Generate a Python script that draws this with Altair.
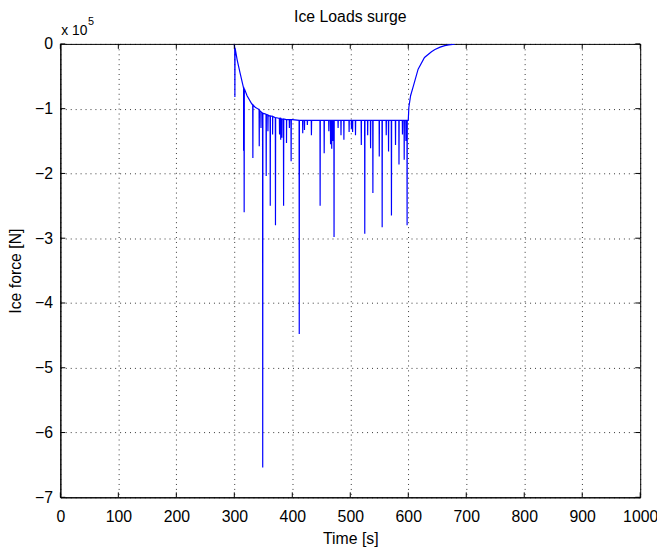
import altair as alt
import pandas as pd

# ---- text ----
title_text = "Ice Loads surge"
x_title = "Time [s]"
y_title = "Ice force [N]"
multiplier_text = "x 10"
multiplier_exp = "5"

# ---- ticks ----
x_ticks = [0, 100, 200, 300, 400, 500, 600, 700, 800, 900, 1000]
y_ticks = [0, -1, -2, -3, -4, -5, -6, -7]   # in units of 1e5 N

# ---- series (force in units of 1e5 N) ----
decay_t = [300, 305, 310, 316, 322, 330, 336, 342, 348, 353, 360, 366, 373, 380, 390, 400, 429, 440]
decay_v = [0.0, -0.25, -0.45, -0.67, -0.80, -0.925, -0.98, -1.01, -1.06, -1.08, -1.11, -1.13, -1.14, -1.15, -1.16, -1.17, -1.18, -1.18]

flat_t = [440, 600]
flat_v = [-1.18, -1.18]

recover_t = [600, 601, 604, 609, 617, 628, 640, 646, 655, 663, 670, 680]
recover_v = [-1.18, -0.98, -0.80, -0.645, -0.39, -0.21, -0.12, -0.087, -0.05, -0.026, -0.015, -0.005]

spike_t = [301, 316, 317, 332, 343, 346, 349, 355, 358, 362, 366, 371, 378, 380, 382, 385, 390, 395,
           398, 412, 418, 421, 426, 433, 448, 455, 463, 466, 468, 470, 472, 479, 484, 489, 498, 502,
           504, 509, 519, 525, 530, 535, 539, 550, 555, 562, 566, 571, 578, 584, 590, 593, 596, 598]
spike_base = [-0.06, -0.67, -0.69, -0.94, -1.02, -1.05, -1.07, -1.09, -1.10, -1.11, -1.12, -1.14, -1.15, -1.15, -1.16, -1.16, -1.17, -1.17,
              -1.17, -1.18, -1.18, -1.18, -1.18, -1.18, -1.18, -1.18, -1.18, -1.18, -1.18, -1.18, -1.18, -1.18, -1.18, -1.18, -1.18, -1.18,
              -1.18, -1.18, -1.18, -1.18, -1.18, -1.18, -1.18, -1.18, -1.18, -1.18, -1.18, -1.18, -1.18, -1.18, -1.18, -1.18, -1.18, -1.18]
spike_min = [-0.82, -1.65, -2.60, -1.76, -1.58, -1.30, -6.54, -2.04, -1.35, -2.50, -1.40, -2.80, -1.40, -1.48, -1.45, -2.50, -1.53, -1.30,
             -1.81, -4.48, -1.38, -1.33, -1.25, -1.41, -2.50, -1.69, -1.35, -1.55, -1.62, -1.50, -2.98, -1.30, -1.41, -1.48, -1.36, -1.31,
             -1.36, -1.41, -1.56, -2.93, -1.41, -1.61, -2.30, -1.74, -2.83, -1.41, -1.66, -2.65, -1.56, -1.86, -1.40, -1.79, -1.50, -2.80]

# ---- build one ordered polyline ----
rows = []
for t, v in zip(decay_t, decay_v):
    rows.append((t, v))
for t, v in zip(flat_t, flat_v):
    rows.append((t, v))
for t, b, m in zip(spike_t, spike_base, spike_min):
    rows.append((t - 0.3, b))
    rows.append((t, m))
    rows.append((t + 0.3, b))
for t, v in zip(recover_t, recover_v):
    rows.append((t, v))
rows.sort(key=lambda r: r[0])
df = pd.DataFrame(rows, columns=["t", "v"])
df["i"] = range(len(df))

xt_df = pd.DataFrame({"t": x_ticks})
yt_df = pd.DataFrame({"v": y_ticks})

W, H = 587, 459
FONT = "Liberation Sans"
xs = alt.Scale(domain=[0, 1000], nice=False, zero=False)
ys = alt.Scale(domain=[-7, 0], nice=False)

line = alt.Chart(df).mark_line(color="#0000ff", strokeWidth=1.2, clip=True).encode(
    x=alt.X("t:Q", scale=xs, axis=alt.Axis(
        values=x_ticks, format="d", title=x_title, grid=True, gridDash=[1, 4], gridColor="black",
        gridOpacity=0.8, tickSize=0, labelPadding=12, titlePadding=6, domainColor="black",
        labelFontSize=16, titleFontSize=16, labelColor="black", titleColor="black",
        labelFont=FONT, titleFont=FONT, titleFontWeight="normal", labelFlush=False)),
    y=alt.Y("v:Q", scale=ys, axis=alt.Axis(
        values=y_ticks, format="d", title=y_title, grid=True, gridDash=[1, 4], gridColor="black",
        gridOpacity=0.8, tickSize=0, labelPadding=8, titlePadding=11, domainColor="black",
        labelFontSize=16, titleFontSize=16, labelColor="black", titleColor="black",
        labelFont=FONT, titleFont=FONT, titleFontWeight="normal", labelFlush=False)),
    order="i:Q",
)

tick_b = alt.Chart(xt_df).mark_rule(color="black").encode(
    x=alt.X("t:Q", scale=xs), y=alt.value(H), y2=alt.value(H - 5))
tick_t = alt.Chart(xt_df).mark_rule(color="black").encode(
    x=alt.X("t:Q", scale=xs), y=alt.value(0), y2=alt.value(5))
tick_l = alt.Chart(yt_df).mark_rule(color="black").encode(
    y=alt.Y("v:Q", scale=ys), x=alt.value(0), x2=alt.value(5))
tick_r = alt.Chart(yt_df).mark_rule(color="black").encode(
    y=alt.Y("v:Q", scale=ys), x=alt.value(W), x2=alt.value(W - 5))

ann_df = pd.DataFrame({"a": [multiplier_text], "b": [multiplier_exp], "c": [title_text]})
ann1 = alt.Chart(ann_df).mark_text(align="left", baseline="alphabetic", fontSize=14,
                                   font=FONT, color="black").encode(
    text="a:N", x=alt.value(1), y=alt.value(-9))
ann2 = alt.Chart(ann_df).mark_text(align="left", baseline="alphabetic", fontSize=11,
                                   font=FONT, color="black").encode(
    text="b:N", x=alt.value(28), y=alt.value(-19))
ttl = alt.Chart(ann_df).mark_text(align="center", baseline="alphabetic", fontSize=16,
                                  font=FONT, color="black").encode(
    text="c:N", x=alt.value(W / 2), y=alt.value(-22))

chart = alt.layer(line, tick_b, tick_t, tick_l, tick_r, ann1, ann2, ttl).properties(
    width=W, height=H,
    autosize=alt.AutoSizeParams(type="none"),
    padding={"left": 53, "top": 33, "right": 17, "bottom": 50},
    background="white",
).configure_view(stroke="black", strokeWidth=1)

chart.save("out.html", embed_options={"renderer": "svg", "actions": False})
